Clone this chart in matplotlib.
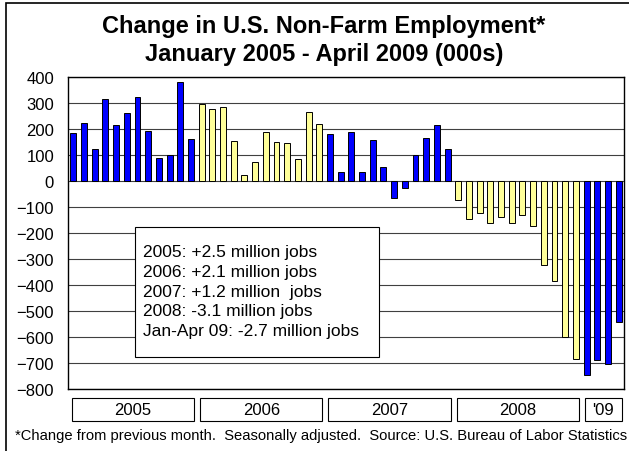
import matplotlib
matplotlib.use("Agg")
import matplotlib.pyplot as plt
import matplotlib.transforms as mtransforms
from matplotlib.patches import Rectangle

plt.rcParams['font.family'] = ['Liberation Sans', 'DejaVu Sans']

# monthly change in payrolls (000s), by year
v2005 = [182, 222, 122, 313, 213, 260, 323, 191, 87, 98, 381, 160]
v2006 = [295, 275, 282, 153, 23, 71, 187, 150, 146, 83, 263, 219]
v2007 = [180, 36, 186, 33, 158, 54, -65, -29, 100, 165, 215, 122]
v2008 = [-72, -146, -122, -160, -137, -162, -129, -175, -323, -383, -600, -685]
v2009 = [-745, -686, -702, -541]

years = ["2005", "2006", "2007", "2008", "'09"]
series = [v2005, v2006, v2007, v2008, v2009]
year_colors = ["#0000FF", "#FFFF99", "#0000FF", "#FFFF99", "#0000FF"]

summary = [
    "2005: +2.5 million jobs",
    "2006: +2.1 million jobs",
    "2007: +1.2 million  jobs",
    "2008: -3.1 million jobs",
    "Jan-Apr 09: -2.7 million jobs",
]

fig = plt.figure(figsize=(6.29, 4.52), dpi=100)
W, H = 629.0, 452.0
ax = fig.add_axes([68 / W, 61.7 / H, 556 / W, 312.6 / H])

vals = []
cols = []
for v, c in zip(series, year_colors):
    vals += v
    cols += [c] * len(v)
x = list(range(len(vals)))

ax.bar(x, vals, width=0.56, color=cols, edgecolor="black", linewidth=0.7, zorder=3)

ax.set_xlim(-0.5, len(vals) - 0.5)
ax.set_ylim(-800, 400)
ax.set_yticks(range(-800, 401, 100))
ax.set_xticks([])
ax.tick_params(axis="y", length=0, pad=10, labelsize=12)
ax.grid(axis="y", color="#404040", linewidth=0.8, zorder=0)
for s in ax.spines.values():
    s.set_linewidth(1.0)

# year boxes under the plot
trans = mtransforms.blended_transform_factory(ax.transData, ax.transAxes)
start = 0
for label, v in zip(years, series):
    x0 = start - 0.5 + 0.35
    x1 = start + len(v) - 0.5 - 0.2
    ax.add_patch(Rectangle((x0, -0.101), x1 - x0, 0.073, transform=trans,
                           facecolor="white", edgecolor="black", linewidth=0.8,
                           clip_on=False))
    ax.text((x0 + x1) / 2, -0.0645, label, transform=trans, ha="center",
            va="center", fontsize=12)
    start += len(v)

# summary box
ax.add_patch(Rectangle((135 / W, 1 - 358 / H), 244 / W, 130 / H,
                       transform=fig.transFigure, facecolor="white",
                       edgecolor="black", linewidth=0.8, zorder=5))
for i, line in enumerate(summary):
    fig.text(142.7 / W, 1 - (257 + 19.75 * i) / H, line, ha="left",
             va="baseline", fontsize=12.5, zorder=6)

fig.text(324 / W, 1 - 33 / H, "Change in U.S. Non-Farm Employment*",
         ha="center", va="baseline", fontsize=17, fontweight="bold")
fig.text(324 / W, 1 - 61 / H, "January 2005 - April 2009 (000s)",
         ha="center", va="baseline", fontsize=17, fontweight="bold")

fig.text(15 / W, 1 - 440 / H,
         "*Change from previous month.  Seasonally adjusted.  "
         "Source: U.S. Bureau of Labor Statistics",
         ha="left", va="baseline", fontsize=10.6)

# outer frame
fig.add_artist(Rectangle((6 / W, -0.02), 1.05, 1 - 4 / H + 0.02,
                         transform=fig.transFigure, fill=False,
                         edgecolor="black", linewidth=1.2))

fig.savefig("out.png", dpi=100)
